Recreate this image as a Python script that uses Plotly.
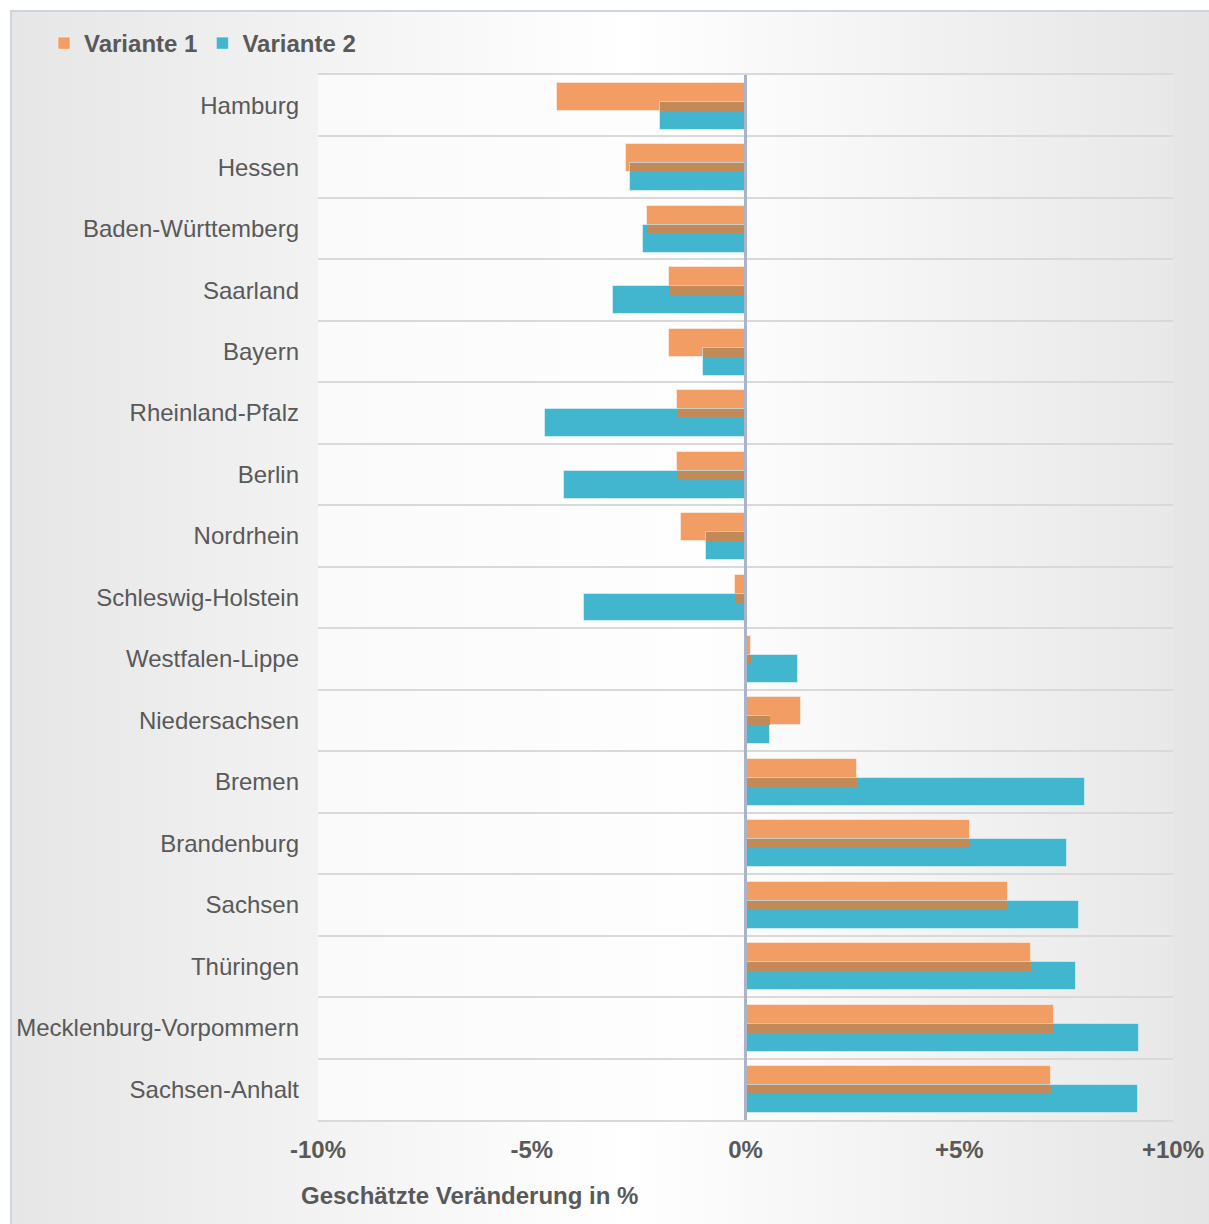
import base64
import numpy as np
import plotly.graph_objects as go

laender = ["Hamburg", "Hessen", "Baden-Württemberg", "Saarland", "Bayern",
           "Rheinland-Pfalz", "Berlin", "Nordrhein", "Schleswig-Holstein",
           "Westfalen-Lippe", "Niedersachsen", "Bremen", "Brandenburg",
           "Sachsen", "Thüringen", "Mecklenburg-Vorpommern", "Sachsen-Anhalt"]
variante1 = [-4.4, -2.8, -2.3, -1.8, -1.8, -1.6, -1.6, -1.5, -0.25,
             0.13, 1.3, 2.6, 5.25, 6.15, 6.68, 7.22, 7.15]
variante2 = [-2.0, -2.7, -2.4, -3.1, -1.0, -4.7, -4.25, -0.93, -3.78,
             1.23, 0.57, 7.93, 7.53, 7.8, 7.73, 9.2, 9.17]
tick_vals = [-10, -5, 0, 5, 10]
tick_text = ["-10%", "-5%", "0%", "+5%", "+10%"]

W, H = 1209, 1224
FONT = "Arial, Liberation Sans, sans-serif"
GREY = "#595959"
ORANGE = "#F19D63"
BLUE = "#42B5CF"
BROWN = "#C28A58"

v1 = np.array(variante1)
v2 = np.array(variante2)
overlap = np.where(np.sign(v1) == np.sign(v2),
                   np.sign(v1) * np.minimum(np.abs(v1), np.abs(v2)), 0.0)

# plot area in pixels
PX0, PX1, PY0, PY1 = 318, 1173, 75, 1120

svg = f'''<svg xmlns="http://www.w3.org/2000/svg" width="{W}" height="{H}" viewBox="0 0 {W} {H}">
<defs>
<linearGradient id="g1" x1="0" x2="1" y1="0" y2="0">
<stop offset="0" stop-color="#e6e6e6"/><stop offset="0.5" stop-color="#ffffff"/><stop offset="1" stop-color="#e3e3e3"/>
</linearGradient>
<linearGradient id="g2" x1="0" x2="1" y1="0" y2="0">
<stop offset="0" stop-color="#fafafa"/><stop offset="0.45" stop-color="#fefefe"/><stop offset="1" stop-color="#e8e8e8"/>
</linearGradient>
</defs>
<rect x="0" y="0" width="{W}" height="{H}" fill="#ffffff"/>
<rect x="11" y="11" width="{W+20}" height="{H+20}" fill="url(#g1)" stroke="#cfd5e0" stroke-width="2"/>
<rect x="{PX0}" y="{PY0}" width="{PX1-PX0}" height="{PY1-PY0}" fill="url(#g2)"/>
</svg>'''
src = "data:image/svg+xml;base64," + base64.b64encode(svg.encode()).decode()

line = dict(color="rgba(255,255,255,0.45)", width=1)
fig = go.Figure()
fig.add_trace(go.Bar(y=laender, x=variante1, orientation="h", name="Variante 1",
                     marker=dict(color=ORANGE, line=line),
                     width=0.455, offset=-0.374, hoverinfo="skip"))
fig.add_trace(go.Bar(y=laender, x=variante2, orientation="h", name="Variante 2",
                     marker=dict(color=BLUE, line=line),
                     width=0.455, offset=-0.065, hoverinfo="skip"))
fig.add_trace(go.Bar(y=laender, x=overlap, orientation="h", name="overlap",
                     marker=dict(color=BROWN, line=dict(width=0)),
                     width=0.147, offset=-0.065, showlegend=False, hoverinfo="skip"))

fig.add_shape(type="line", xref="x", yref="y domain", x0=0, x1=0, y0=0, y1=1,
              line=dict(color="#a9b4c8", width=3), layer="above")

fig.add_annotation(text="<b>Geschätzte Veränderung in %</b>", xref="paper", yref="paper",
                   x=299 / W, y=1 - 1195 / H, xanchor="left", yanchor="middle",
                   showarrow=False, font=dict(family=FONT, size=24, color=GREY))

fig.update_layout(
    width=W, height=H,
    margin=dict(l=0, r=0, t=0, b=0, autoexpand=False),
    paper_bgcolor="white", plot_bgcolor="rgba(0,0,0,0)",
    barmode="overlay", bargap=0,
    font=dict(family=FONT, size=24, color=GREY),
    images=[dict(source=src, xref="paper", yref="paper", x=0, y=1,
                 sizex=1, sizey=1, xanchor="left", yanchor="top",
                 sizing="stretch", layer="below")],
    legend=dict(orientation="h", x=44 / W, y=1 - 21 / H, xanchor="left", yanchor="top",
                bgcolor="rgba(0,0,0,0)",
                font=dict(family=FONT, size=24, color=GREY, weight="bold"),
                itemwidth=30, traceorder="normal"),
    showlegend=True,
)
fig.update_xaxes(range=[-10, 10], domain=[PX0 / W, PX1 / W],
                 tickvals=tick_vals, ticktext=tick_text,
                 tickfont=dict(family=FONT, size=24, color=GREY, weight="bold"),
                 showgrid=False, zeroline=False, automargin=False,
                 showline=True, mirror=True, linecolor="#d9d9d9", linewidth=2,
                 ticks="", ticklabelstandoff=7, fixedrange=True)
fig.update_yaxes(domain=[1 - PY1 / H, 1 - PY0 / H],
                 categoryorder="array", categoryarray=laender,
                 range=[len(laender) - 0.5, -0.5], automargin=False,
                 tickson="boundaries", showgrid=True, gridcolor="#d9d9d9", gridwidth=2,
                 ticks="", ticklabelstandoff=18, zeroline=False, fixedrange=True)

fig.write_html("out.html")
